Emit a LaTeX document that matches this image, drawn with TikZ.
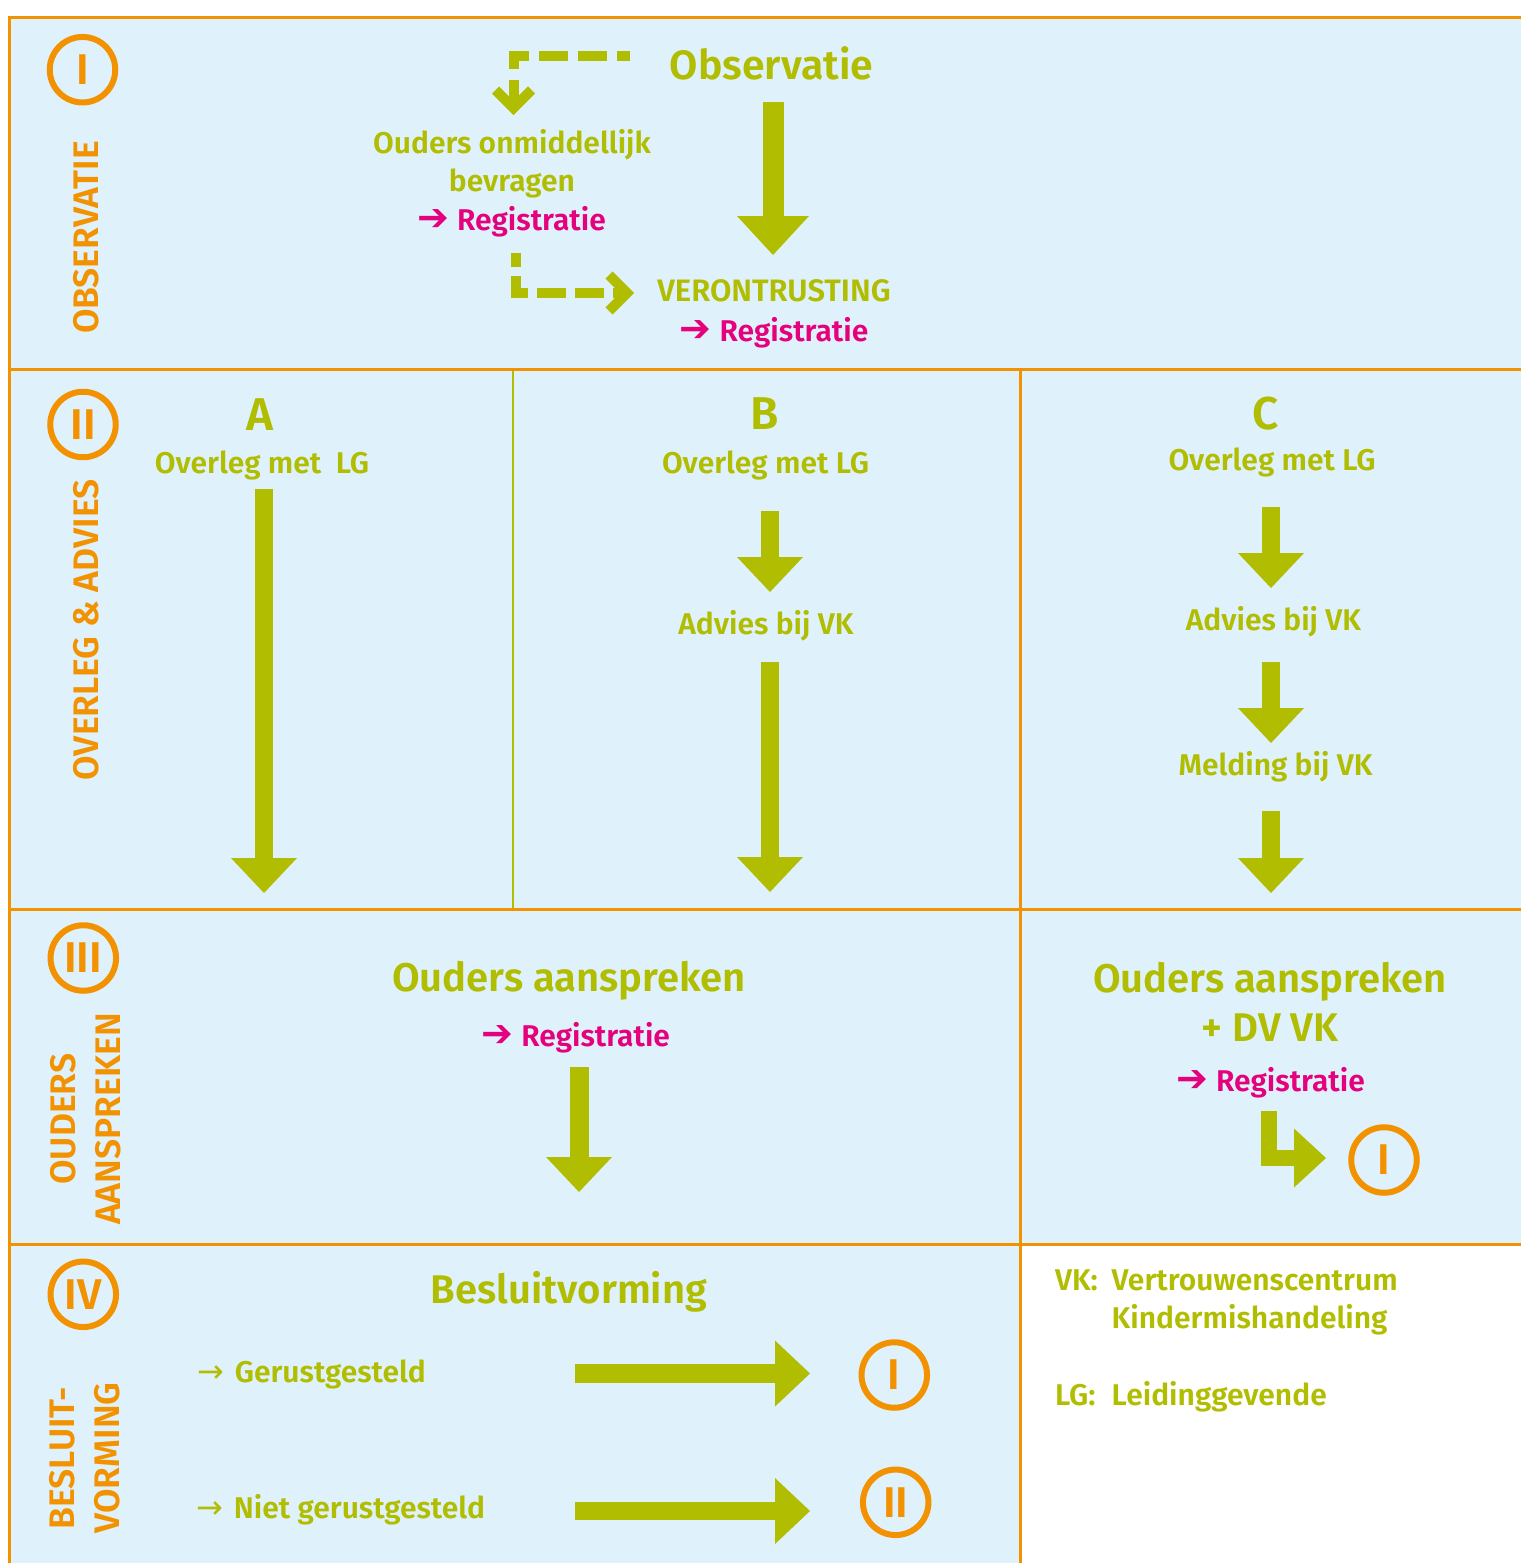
\documentclass[tikz,border=0pt]{standalone}
\usepackage{fontspec}
\setmainfont{Fira Sans}[BoldFont={Fira Sans SemiBold}]
\newfontfamily\arrowsfont{DejaVu Sans}
\usetikzlibrary{arrows.meta,calc}
\definecolor{org}{HTML}{F39200}
\definecolor{grn}{HTML}{B1BD00}
\definecolor{mag}{HTML}{E5007E}
\definecolor{lblue}{HTML}{DFF1FB}
\newcommand{\regarrow}{{\arrowsfont\bfseries\fontsize{38}{30}\selectfont ➔}\hspace{8pt}}
\newcommand{\thinarrow}{{\arrowsfont\mdseries\fontsize{32}{30}\selectfont →}\hspace{11pt}}
\begin{document}
\begin{tikzpicture}[x=1pt,y=-1pt,
  every node/.style={inner sep=0pt, outer sep=0pt},
  gtext/.style={text=grn, font=\fontsize{30}{36}\selectfont\bfseries, anchor=base},
  gbig/.style={gtext, font=\fontsize{41}{48}\selectfont\bfseries},
  gletter/.style={gtext, font=\fontsize{46}{50}\selectfont\bfseries},
  mtext/.style={text=mag, font=\fontsize{30}{36}\selectfont\bfseries, anchor=base},
  olabel/.style={text=org, font=\fontsize{35.5}{44.5}\selectfont\bfseries, rotate=90, align=center},
  numc/.style={circle, draw=org, line width=6pt, minimum size=65.5pt, text=org, font=\fontsize{43}{43}\selectfont\bfseries},
  gridline/.style={draw=org, line width=3pt},
  blockarrow/.style={draw=grn, line width=18.3pt, -{Triangle[length=35pt,width=66pt,line width=0pt]}},
  dashconn/.style={draw=grn, line width=10pt},
  chevron/.style={draw=grn, line width=10pt, line join=miter}
]
\useasboundingbox (0,0) rectangle (1521,1563);
% backgrounds
\fill[lblue] (9.5,18) rectangle (1521,1244);
\fill[lblue] (9.5,1244) rectangle (1020,1563);
% grid lines
\draw[gridline] (9.5,18) -- (1521,18);
\draw[gridline] (9.5,16.5) -- (9.5,1563);
\draw[gridline] (9.5,369) -- (1521,369);
\draw[gridline] (9.5,909) -- (1521,909);
\draw[gridline] (9.5,1244) -- (1521,1244);
\draw[gridline] (1020,369) -- (1020,1563);
\draw[draw=grn, line width=2pt] (513,370.5) -- (513,907.5);

% circles with numerals
\node[numc] (c1) at (82.5,69.7) {I};
\node[numc] (c2) at (83,424.5) {II};
\node[numc] (c3) at (83.3,958) {III};
\node[numc] (c4) at (83.3,1294.3) {IV};
\node[numc] (c5) at (1384,1160) {I};
\node[numc] (c6) at (894.3,1375) {I};
\node[numc] (c7) at (895.7,1502.3) {II};

% rotated section labels
\node[olabel, anchor=base] (l1) at (98,237.5) {OBSERVATIE};
\node[olabel, anchor=base] (l2) at (98,630) {OVERLEG \& ADVIES};
\node[olabel] (l3) at (85.5,1119) {OUDERS\\AANSPREKEN};
\node[olabel] (l4) at (84.5,1458) {BESLUIT-\\VORMING};

% ---- row I
\node[gbig] (obs) at (771.5,79.3) {Observatie};
\node[gtext] (oud1) at (512,153.3) {Ouders onmiddellijk};
\node[gtext] (oud2) at (512,191.7) {bevragen};
\node[mtext] (reg1) at (511.5,230) {\regarrow Registratie};
\node[gtext, font=\fontsize{31}{36}\selectfont\bfseries] (ver) at (774,301.7) {VERONTRUSTING};
\node[mtext] (reg2) at (774,341.7) {\regarrow Registratie};

\coordinate (a0s) at (773,102); \coordinate (a0e) at (773,255);
\draw[blockarrow, line width=21pt, -{Triangle[length=39pt,width=72pt,line width=0pt]}] (a0s) -- (a0e);

\coordinate (d1s) at (630,56); \coordinate (d1c) at (513.5,56); \coordinate (d1e) at (513.5,108);
\draw[dashconn, dash pattern=on 29pt off 10pt, dash phase=16pt] (d1s) -- (d1c) -- (d1e);
\draw[chevron] ($(d1e)+(-18,-18)$) -- (d1e) -- ($(d1e)+(18,-18)$);

\coordinate (d2s) at (515.5,253); \coordinate (d2c) at (515.5,293); \coordinate (d2e) at (627,293);
\draw[dashconn, dash pattern=on 29pt off 9pt, dash phase=15pt] (d2s) -- (d2c) -- (d2e);
\draw[chevron] ($(d2e)+(-18,-18)$) -- (d2e) -- ($(d2e)+(-18,18)$);

% ---- row II
\node[gletter] (A) at (260,430) {A};
\node[gletter] (B) at (765,429) {B};
\node[gletter] (C) at (1266,429) {C};
\node[gtext] (ovA) at (262,473.3) {Overleg met\ \ LG};
\node[gtext] (ovB) at (765.5,473) {Overleg met LG};
\node[gtext] (ovC) at (1272,470) {Overleg met LG};
\node[gtext] (advB) at (766,634.5) {Advies bij VK};
\node[gtext] (advC) at (1273.5,630) {Advies bij VK};
\node[gtext] (melC) at (1275.5,775.6) {Melding bij VK};

\coordinate (aAs) at (264,489); \coordinate (aAe) at (264,893);
\draw[blockarrow] (aAs) -- (aAe);
\coordinate (aB1s) at (770,511); \coordinate (aB1e) at (770,592);
\draw[blockarrow] (aB1s) -- (aB1e);
\coordinate (aB2s) at (770,662); \coordinate (aB2e) at (770,892);
\draw[blockarrow] (aB2s) -- (aB2e);
\coordinate (aC1s) at (1271,507); \coordinate (aC1e) at (1271,588);
\draw[blockarrow] (aC1s) -- (aC1e);
\coordinate (aC2s) at (1271,662); \coordinate (aC2e) at (1271,743);
\draw[blockarrow] (aC2s) -- (aC2e);
\coordinate (aC3s) at (1271,811); \coordinate (aC3e) at (1271,893);
\draw[blockarrow] (aC3s) -- (aC3e);

% ---- row III
\node[gbig, font=\fontsize{40}{48}\selectfont\bfseries] (oa1) at (569,991.7) {Ouders aanspreken};
\node[mtext] (reg3) at (575.7,1046.7) {\regarrow Registratie};
\coordinate (a3s) at (579,1067); \coordinate (a3e) at (579,1192);
\draw[blockarrow, line width=19pt] (a3s) -- (a3e);

\node[gbig, font=\fontsize{40}{48}\selectfont\bfseries] (oa2) at (1270,992.7) {Ouders aanspreken};
\node[gbig, font=\fontsize{40}{48}\selectfont\bfseries] (dv) at (1270,1041.7) {+ DV VK};
\node[mtext] (reg4) at (1270.5,1091.7) {\regarrow Registratie};
\coordinate (lAs) at (1269,1111); \coordinate (lAe) at (1326,1158);
\draw[draw=grn, line width=16pt, line join=miter, -{Triangle[length=32pt,width=59pt,line width=0pt]}] (lAs) |- (lAe);

% ---- row IV
\node[gbig, font=\fontsize{40}{48}\selectfont\bfseries] (bes) at (569,1303) {Besluitvorming};
\node[gtext, anchor=base west] (ger) at (197,1382.7) {\thinarrow Gerustgesteld};
\node[gtext, anchor=base west] (nger) at (196,1518) {\thinarrow Niet gerustgesteld};
\coordinate (a41s) at (575,1373.5); \coordinate (a41e) at (810,1373.5);
\draw[blockarrow] (a41s) -- (a41e);
\coordinate (a42s) at (575,1511); \coordinate (a42e) at (810,1511);
\draw[blockarrow] (a42s) -- (a42e);

% ---- legend
\node[gtext, anchor=base west] (vk) at (1055,1290.7) {VK:};
\node[gtext, anchor=base west] (vk1) at (1111.7,1290.7) {Vertrouwenscentrum};
\node[gtext, anchor=base west] (vk2) at (1111.7,1328.3) {Kindermishandeling};
\node[gtext, anchor=base west] (lg) at (1055,1405) {LG:};
\node[gtext, anchor=base west] (lg1) at (1111.7,1405) {Leidinggevende};
\end{tikzpicture}
\end{document}
